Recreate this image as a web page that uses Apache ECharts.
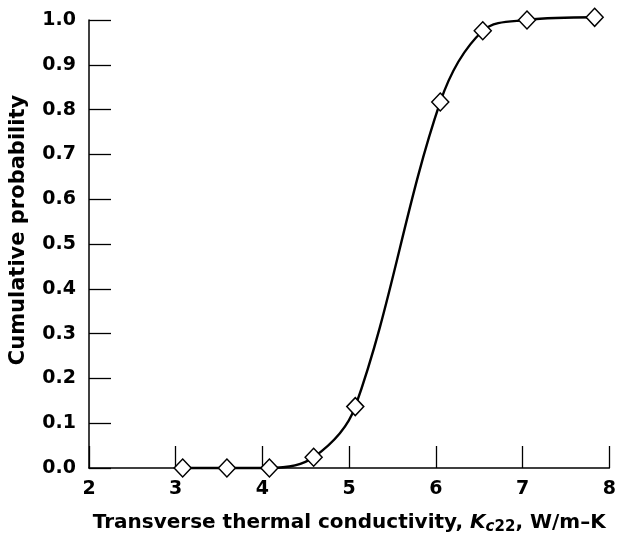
<!DOCTYPE html>
<html><head><meta charset="utf-8">
<script src="https://cdn.jsdelivr.net/npm/echarts@6/dist/echarts.min.js"></script>
<style>html,body{margin:0;padding:0;background:#fff}#c{width:619px;height:540px}</style>
</head><body><div id="c"></div>
<script>
const conductivity = [3.08, 3.59, 4.08, 4.59, 5.07, 6.05, 6.54, 7.05, 7.83];
const cumulativeProb = [0.0, 0.0, 0.0, 0.024, 0.137, 0.817, 0.976, 1.0, 1.006];
const xTicks = [2, 3, 4, 5, 6, 7, 8];
const yTicks = [0.0, 0.1, 0.2, 0.3, 0.4, 0.5, 0.6, 0.7, 0.8, 0.9, 1.0];

const FONT = "'DejaVu Sans', sans-serif";
const chart = echarts.init(document.getElementById('c'), null, {renderer: 'canvas'});
chart.setOption({
  animation: false,
  backgroundColor: '#fff',
  grid: {left: 89, right: 8, top: 20, bottom: 66, containLabel: false},
  xAxis: {
    type: 'value', min: xTicks[0], max: xTicks[xTicks.length - 1], interval: 1,
    splitLine: {show: false},
    axisLine: {lineStyle: {color: '#000', width: 1.5}},
    axisTick: {inside: true, length: 22, lineStyle: {color: '#000', width: 1.3}},
    axisLabel: {color: '#000', fontFamily: FONT, fontWeight: 'bold', fontSize: 19, margin: 12},
    name: '{t|Transverse thermal conductivity, }{k|K}{si|c}{s|22}{t|, W/m–K}',
    nameLocation: 'middle', nameGap: 42,
    nameTextStyle: {
      rich: {
        t: {color: '#000', fontFamily: FONT, fontWeight: 'bold', fontSize: 20},
        k: {color: '#000', fontFamily: FONT, fontWeight: 'bold', fontStyle: 'italic', fontSize: 20},
        si: {color: '#000', fontFamily: FONT, fontWeight: 'bold', fontStyle: 'italic', fontSize: 15, padding: [10, 0, 0, 0]},
        s: {color: '#000', fontFamily: FONT, fontWeight: 'bold', fontSize: 15, padding: [10, 0, 0, 0]}
      }
    }
  },
  yAxis: {
    type: 'value', min: yTicks[0], max: yTicks[yTicks.length - 1], interval: 0.1,
    splitLine: {show: false},
    axisLine: {show: true, lineStyle: {color: '#000', width: 1.5}},
    axisTick: {show: true, inside: true, length: 22, lineStyle: {color: '#000', width: 1.3}},
    axisLabel: {color: '#000', fontFamily: FONT, fontWeight: 'bold', fontSize: 19, margin: 13,
      formatter: v => v.toFixed(1)},
    name: 'Cumulative probability', nameLocation: 'middle', nameGap: 60,
    nameTextStyle: {color: '#000', fontFamily: FONT, fontWeight: 'bold', fontSize: 21,
      padding: [0, 0, 0, 28]}
  },
  series: [{
    type: 'line',
    data: conductivity.map((x, i) => [x, cumulativeProb[i]]),
    smooth: 0.35,
    clip: false,
    symbol: 'diamond', symbolSize: [17, 18],
    lineStyle: {color: '#000', width: 2.4},
    itemStyle: {color: '#fff', borderColor: '#000', borderWidth: 1.5}
  }]
});
</script></body></html>
